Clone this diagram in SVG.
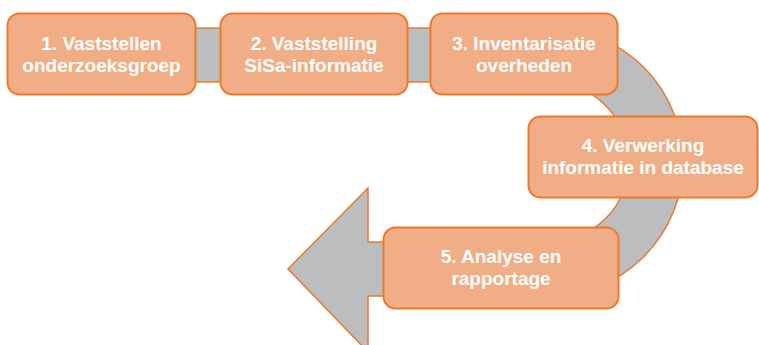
<svg xmlns="http://www.w3.org/2000/svg" width="759" height="345" viewBox="0 0 759 345">
<style>
.box{fill:#F1AE86;stroke:#EC7A2C;stroke-width:2}
.band{fill:#BBBDBF;stroke:#EC7A2C;stroke-width:1.5}
.t{font-family:"Liberation Sans",Arial,sans-serif;font-weight:bold;font-size:19px;fill:#FFFFFF;text-anchor:middle}
</style>
<rect width="759" height="345" fill="#FFFFFF"/>
<g id="connectors">
<path class="band" d="M368,242 L549,242 A80,80 0 0 0 549,82 L100,82 L100,28 L549,28 A134,134 0 0 1 549,296 L368,296 L368,352 L288,269 L368,188 Z"/>
</g>
<g id="node1">
<rect class="box" x="7.5" y="13.5" width="188" height="81" rx="12"/>
<text class="t" x="101.5" y="50">1. Vaststellen</text>
<text class="t" x="101.5" y="72">onderzoeksgroep</text>
</g>
<g id="node2">
<rect class="box" x="220.5" y="13.5" width="187" height="81" rx="12"/>
<text class="t" x="314" y="50">2. Vaststelling</text>
<text class="t" x="314" y="72">SiSa-informatie</text>
</g>
<g id="node3">
<rect class="box" x="430.5" y="13.5" width="187" height="81" rx="12"/>
<text class="t" x="524" y="50">3. Inventarisatie</text>
<text class="t" x="524" y="72">overheden</text>
</g>
<g id="node4">
<rect class="box" x="528.5" y="116.5" width="229" height="81" rx="12"/>
<text class="t" x="643" y="152">4. Verwerking</text>
<text class="t" x="643" y="174">informatie in database</text>
</g>
<g id="node5">
<rect class="box" x="383.5" y="227.5" width="235" height="81" rx="12"/>
<text class="t" x="501" y="263">5. Analyse en</text>
<text class="t" x="501" y="285">rapportage</text>
</g>
</svg>
